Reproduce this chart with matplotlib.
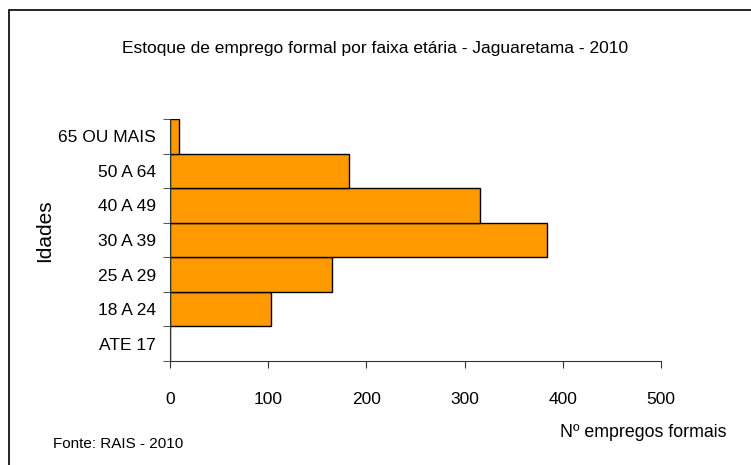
"""
Estoque de emprego formal por faixa etaria - Jaguaretama - 2010
Horizontal bar chart, RAIS 2010
"""
import matplotlib
matplotlib.use('Agg')
import matplotlib.pyplot as plt
import matplotlib.patches as patches

# data
faixas = ['ATE 17', '18 A 24', '25 A 29', '30 A 39', '40 A 49', '50 A 64', '65 OU MAIS']
empregos = [0, 103, 165, 384, 316, 182, 9]
x_ticks = [0, 100, 200, 300, 400, 500]

plt.rcParams['font.family'] = ['Liberation Sans', 'DejaVu Sans']

fig = plt.figure(figsize=(7.51, 4.65), dpi=100)
ax = fig.add_axes([170 / 751, 104 / 465, 491 / 751, 242 / 465])

ax.barh(range(len(faixas)), empregos, height=1.0,
        color='#FF9900', edgecolor='black', linewidth=1.0)

ax.set_xlim(0, 500)
ax.set_ylim(-0.5, len(faixas) - 0.5)
ax.set_xticks(x_ticks)
ax.set_xticklabels([str(t) for t in x_ticks], fontsize=12.5)
ax.set_yticks(range(len(faixas)))
ax.set_yticklabels(faixas, fontsize=12.5)

# ticks sit on the band boundaries, labels in the middle
ax.set_yticks([i - 0.5 for i in range(len(faixas) + 1)], minor=True)
ax.tick_params(axis='y', which='major', length=0, pad=10)
ax.tick_params(axis='y', which='minor', length=5, direction='out', color='#333333')
ax.tick_params(axis='x', which='major', length=5, direction='out', pad=17,
               color='#333333')

for side in ['top', 'right']:
    ax.spines[side].set_visible(False)
for side in ['left', 'bottom']:
    ax.spines[side].set_color('#333333')

fig.text(45 / 751, 1 - 231 / 465, 'Idades', rotation=90, ha='center', va='center', fontsize=15)

fig.text(375 / 751, 1 - 48 / 465, 'Estoque de emprego formal por faixa etária - Jaguaretama - 2010',
         ha='center', va='center', fontsize=12.5)
fig.text(53 / 751, 1 - 444 / 465, 'Fonte: RAIS - 2010', ha='left', va='center', fontsize=11)
fig.text(560 / 751, 1 - 432 / 465, 'Nº empregos formais', ha='left', va='center', fontsize=12.8)

# outer frame (only left and top edges fall inside the image)
fig.patches.append(patches.Rectangle((9 / 751, -0.1), 1.2, 1.1 - 10 / 465,
                                     transform=fig.transFigure, fill=False,
                                     edgecolor='black', linewidth=1.2))

plt.savefig('out.png', dpi=100)
